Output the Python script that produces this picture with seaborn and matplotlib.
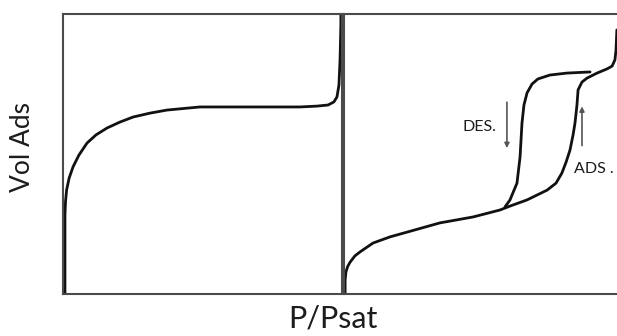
import numpy as np
import pandas as pd
import matplotlib
matplotlib.use("Agg")
import matplotlib.pyplot as plt
import seaborn as sns

# Type I isotherm (left panel), relative coordinates 0..1
type1_p = [0.007, 0.007, 0.007, 0.009, 0.013, 0.022, 0.036, 0.057, 0.086, 0.118, 0.158,
           0.204, 0.251, 0.312, 0.373, 0.491, 0.609, 0.731, 0.849, 0.910, 0.950,
           0.971, 0.982, 0.989, 0.993, 0.996, 0.996]
type1_v = [0.000, 0.157, 0.282, 0.330, 0.372, 0.414, 0.454, 0.496, 0.539, 0.568, 0.593,
           0.614, 0.632, 0.646, 0.657, 0.668, 0.668, 0.668, 0.668, 0.671, 0.675,
           0.686, 0.704, 0.746, 0.836, 0.961, 1.000]

# Type IV isotherm (right panel): adsorption branch
ads_p = [0.004, 0.004, 0.007, 0.013, 0.022, 0.039, 0.057, 0.104, 0.165, 0.226, 0.344,
         0.462, 0.559, 0.595, 0.656, 0.728, 0.760, 0.781, 0.796, 0.810, 0.821,
         0.828, 0.835, 0.839, 0.853, 0.871, 0.907, 0.943, 0.961, 0.971, 0.975, 0.978]
ads_v = [0.004, 0.050, 0.079, 0.098, 0.114, 0.136, 0.150, 0.182, 0.204, 0.221, 0.254,
         0.275, 0.300, 0.314, 0.336, 0.371, 0.396, 0.432, 0.471, 0.514, 0.568,
         0.611, 0.675, 0.729, 0.757, 0.771, 0.789, 0.804, 0.814, 0.836, 0.871, 0.943]

# desorption branch (from closure point up to the plateau)
des_p = [0.577, 0.595, 0.620, 0.631, 0.638, 0.645, 0.656, 0.674, 0.695, 0.738, 0.799, 0.882]
des_v = [0.311, 0.336, 0.396, 0.489, 0.611, 0.675, 0.718, 0.750, 0.768, 0.782, 0.789, 0.793]

LINE = "#111111"
FRAME = "#4a4a4a"
TEXT = "#1c1c1c"

sns.set_style("white")
plt.rcParams['font.family'] = ['Lato', 'DejaVu Sans']

fig = plt.figure(figsize=(6.17, 3.36), dpi=100)
ax1 = fig.add_axes([63 / 617, 42 / 336, 279 / 617, 280 / 336])
ax2 = fig.add_axes([344 / 617, 42 / 336, 279 / 617, 280 / 336])

df1 = pd.DataFrame({'p': type1_p, 'v': type1_v})
df_ads = pd.DataFrame({'p': ads_p, 'v': ads_v})
df_des = pd.DataFrame({'p': des_p, 'v': des_v})

for ax, df in ((ax1, df1), (ax2, df_ads), (ax2, df_des)):
    sns.lineplot(data=df, x='p', y='v', sort=False, estimator=None, ax=ax,
                 color=LINE, linewidth=2.0, solid_capstyle='round',
                 solid_joinstyle='round')

for ax in (ax1, ax2):
    ax.set_xlim(0, 1)
    ax.set_ylim(0, 1)
    ax.set_xticks([])
    ax.set_yticks([])
    ax.set_xlabel('')
    ax.set_ylabel('')
    for sp in ax.spines.values():
        sp.set_color(FRAME)
        sp.set_linewidth(1.5)

# arrows and labels for the hysteresis loop
ax2.annotate('', xy=(0.584, 0.521), xytext=(0.584, 0.685),
             arrowprops=dict(arrowstyle='-|>', color='#555555', lw=1.2,
                             mutation_scale=7, shrinkA=0, shrinkB=0))
ax2.annotate('', xy=(0.853, 0.670), xytext=(0.853, 0.530),
             arrowprops=dict(arrowstyle='-|>', color='#555555', lw=1.2,
                             mutation_scale=7, shrinkA=0, shrinkB=0))
ax2.text(0.487, 0.596, 'DES.', ha='center', va='center', fontsize=11.5, color=TEXT)
ax2.text(0.896, 0.446, 'ADS .', ha='center', va='center', fontsize=11.5, color=TEXT)

fig.text(0.037, 0.5625, 'Vol Ads', rotation=90, ha='center', va='center',
         fontsize=19, color=TEXT)
fig.text(0.54, 0.052, 'P/Psat', ha='center', va='center', fontsize=22, color=TEXT)

fig.savefig('out.png', dpi=100)
